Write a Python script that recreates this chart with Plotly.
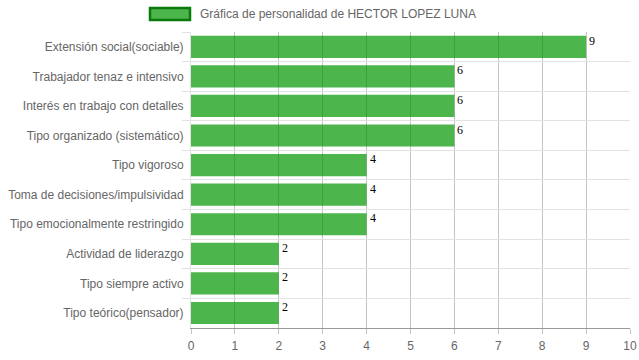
import plotly.graph_objects as go

categories = [
    "Extensión social(sociable)",
    "Trabajador tenaz e intensivo",
    "Interés en trabajo con detalles",
    "Tipo organizado (sistemático)",
    "Tipo vigoroso",
    "Toma de decisiones/impulsividad",
    "Tipo emocionalmente restringido",
    "Actividad de liderazgo",
    "Tipo siempre activo",
    "Tipo teórico(pensador)",
]
values = [9, 6, 6, 6, 4, 4, 4, 2, 2, 2]
series_name = "Gráfica de personalidad de HECTOR LOPEZ LUNA"
x_ticks = list(range(0, 11))

fig = go.Figure()
fig.add_trace(go.Bar(
    x=values, y=categories, orientation="h",
    marker=dict(color="rgba(0,150,0,0.7)", line=dict(width=0)),
    name=series_name, showlegend=False, hoverinfo="x+y",
))

for c, v in zip(categories, values):
    fig.add_annotation(x=v, y=c, text=str(v), showarrow=False,
                       xanchor="left", yanchor="middle", xshift=1, yshift=6,
                       font=dict(family="Liberation Serif", size=12, color="#000000"))

# legend drawn manually (Chart.js style)
fig.add_shape(type="rect", xref="paper", yref="paper",
              x0=-0.0934, x1=-0.0023, y0=1.081, y1=1.0405,
              fillcolor="rgba(76,181,76,1)",
              line=dict(color="#0a7a0a", width=2.5))
fig.add_annotation(xref="paper", yref="paper", x=0.016, y=1.0608,
                   text=series_name, showarrow=False, xanchor="left", yanchor="middle",
                   font=dict(family="Liberation Sans", size=12, color="#666"))

fig.update_layout(
    width=639, height=360,
    margin=dict(l=191, r=9, t=32, b=32),
    paper_bgcolor="white", plot_bgcolor="white",
    bargap=0.25,
    font=dict(family="Liberation Sans", size=12, color="#666"),
    xaxis=dict(range=[0, 10], tickvals=x_ticks, showgrid=True, gridcolor="#c4c4c4",
               gridwidth=1, zeroline=False, showline=True, linecolor="#999",
               ticks="outside", ticklen=5, tickcolor="#c4c4c4", ticklabelstandoff=2,
               tickfont=dict(size=12, color="#666"), automargin=False, fixedrange=True),
    yaxis=dict(autorange="reversed", tickson="boundaries", showgrid=True,
               gridcolor="#e2e2e2", ticks="outside", ticklen=8, tickcolor="#e2e2e2",
               ticklabelstandoff=4,
               showline=True, linecolor="#e2e2e2", zeroline=False,
               tickfont=dict(size=12, color="#666"), automargin=False),
)

fig.write_html(
    "out.html",
    config={"displayModeBar": False},
    post_script="document.body.style.margin='0';document.body.style.overflow='hidden';",
)
